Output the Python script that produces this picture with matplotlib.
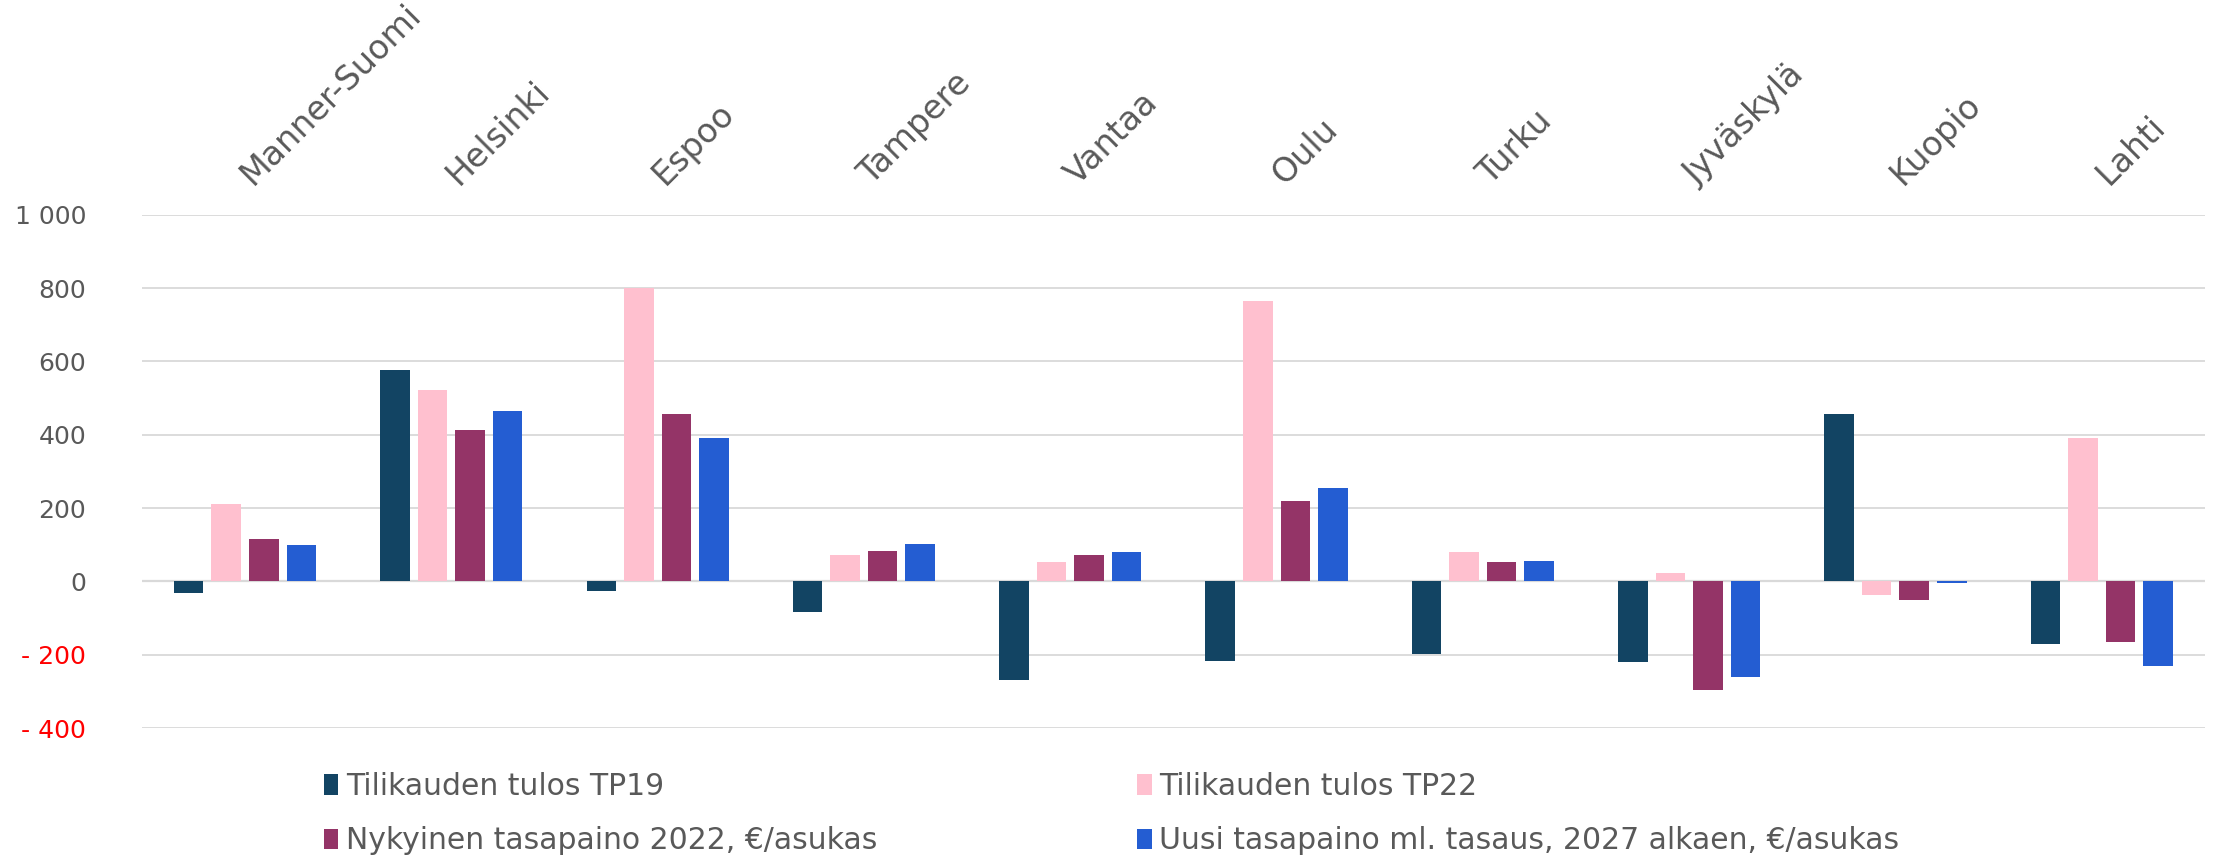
import matplotlib.pyplot as plt
from matplotlib.patches import Patch
from matplotlib.ticker import FuncFormatter
import numpy as np

# data (€/asukas)
cities = ['Manner-Suomi', 'Helsinki', 'Espoo', 'Tampere', 'Vantaa',
          'Oulu', 'Turku', 'Jyväskylä', 'Kuopio', 'Lahti']
tp19 = [-32, 576, -26, -84, -270, -216, -199, -221, 458, -171]
tp22 = [211, 523, 801, 72, 53, 765, 81, 23, -36, 392]
nykyinen = [115, 413, 458, 82, 72, 218, 52, -297, -52, -164]
uusi = [100, 466, 392, 102, 80, 254, 55, -260, -5, -231]

series_names = ['Tilikauden tulos TP19', 'Tilikauden tulos TP22',
                'Nykyinen tasapaino 2022, €/asukas',
                'Uusi tasapaino ml. tasaus, 2027 alkaen, €/asukas']
colors = ['#124463', '#FFC0CF', '#943467', '#245DD2']
yticks = [-400, -200, 0, 200, 400, 600, 800, 1000]

plt.rcParams['font.family'] = 'DejaVu Sans'
grey = '#595959'

fig = plt.figure(figsize=(22.16, 8.56), dpi=100)
ax = fig.add_axes([0.064, 0.1495, 0.931, 0.5995])

x = np.arange(len(cities))
w = 0.143
step = 0.182
for i, vals in enumerate([tp19, tp22, nykyinen, uusi]):
    ax.bar(x + (i - 1.5) * step, vals, width=w, color=colors[i], zorder=3)

ax.set_xlim(-0.5, len(cities) - 0.5)
ax.set_ylim(-400, 1000)
ax.set_yticks(yticks)
ax.yaxis.grid(True, color='#D9D9D9', linewidth=1.3, zorder=0)
ax.axhline(0, color='#D9D9D9', linewidth=1.6, zorder=2)

def fmt(v, pos):
    v = int(v)
    s = f'{abs(v):,}'.replace(',', ' ')
    return '- ' + s if v < 0 else s

ax.yaxis.set_major_formatter(FuncFormatter(fmt))
ax.tick_params(axis='y', length=0, pad=40, labelsize=18, labelcolor=grey)
for t, v in zip(ax.get_yticklabels(), yticks):
    if v < 0:
        t.set_color('#FF0000')

# category names on top, slanted; ticks nudged a bit right of group centre
ax.xaxis.tick_top()
ax.set_xticks(x + 0.06)
ax.set_xticklabels(cities, rotation=45, ha='left', va='bottom',
                   rotation_mode='anchor', fontsize=24, color=grey)
ax.tick_params(axis='x', length=0, pad=17)

for s in ax.spines.values():
    s.set_visible(False)

# legend fills column by column, so order items to read row-wise
order = [0, 2, 1, 3]
handles = [Patch(facecolor=colors[i], edgecolor='none') for i in order]
labels = [series_names[i] for i in order]
leg = fig.legend(handles, labels, loc='upper left', ncol=2,
                 bbox_to_anchor=(0.146, 0.098), frameon=False, fontsize=21.5,
                 handlelength=0.5, handleheight=0.7, handletextpad=0.25,
                 columnspacing=8.7, labelspacing=0.85, borderpad=0,
                 borderaxespad=0)
for t in leg.get_texts():
    t.set_color(grey)

fig.savefig('out.png', dpi=100)
